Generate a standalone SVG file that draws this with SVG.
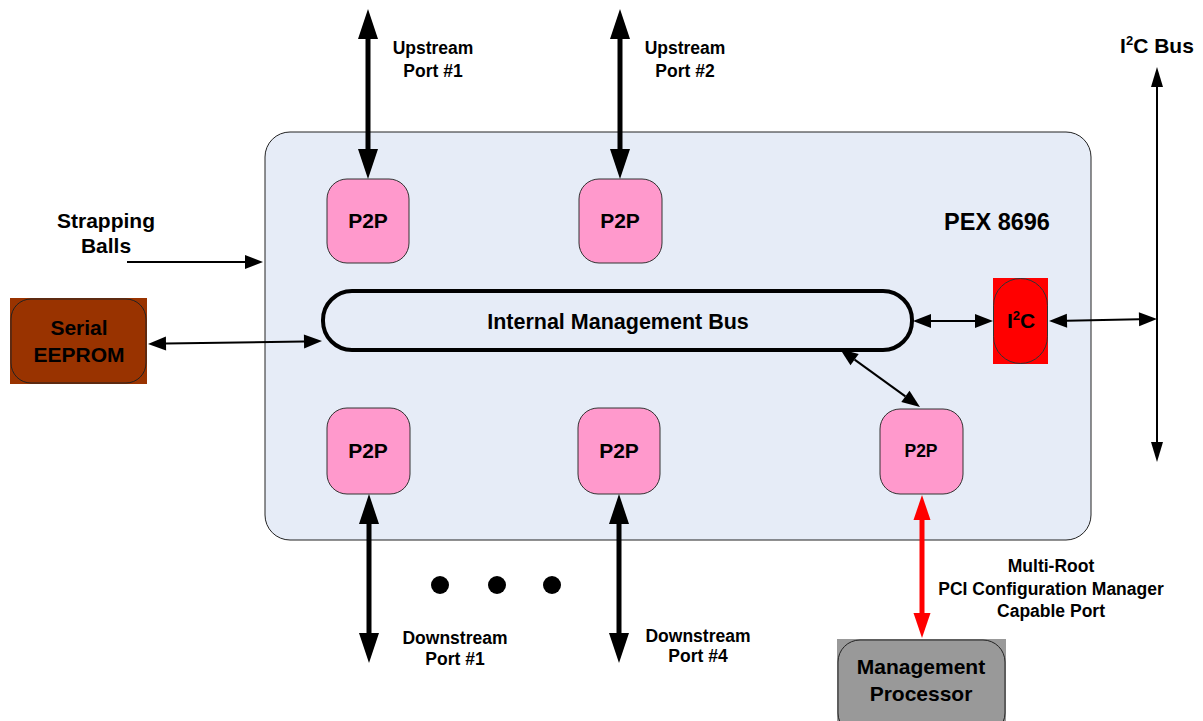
<svg xmlns="http://www.w3.org/2000/svg" width="1203" height="721" viewBox="0 0 1203 721">
<defs>
<style>
text{font-family:"Liberation Sans",Arial,sans-serif;font-weight:bold;fill:#000;text-anchor:middle}
.big{font-size:21px}
.sm{font-size:17.5px}
.p2p{fill:#ff99cc;stroke:#333;stroke-width:1}
.thick{stroke:#000;stroke-width:5;fill:none}
.thin{stroke:#000;stroke-width:2;fill:none}
.red{stroke:#ff0000;stroke-width:5;fill:none}
</style>
<marker id="hb" markerUnits="userSpaceOnUse" markerWidth="32" markerHeight="22" viewBox="0 -11 32 22" refX="0" refY="0" orient="auto-start-reverse" overflow="visible">
<path d="M0,-10 L30,0 L0,10 z" fill="#000"/>
</marker>
<marker id="hr" markerUnits="userSpaceOnUse" markerWidth="27" markerHeight="19" viewBox="0 -9.5 27 19" refX="0" refY="0" orient="auto-start-reverse" overflow="visible">
<path d="M0,-8.5 L25,0 L0,8.5 z" fill="#ff0000"/>
</marker>
<marker id="ht" markerUnits="userSpaceOnUse" markerWidth="20" markerHeight="16" viewBox="0 -8 20 16" refX="0" refY="0" orient="auto-start-reverse" overflow="visible">
<path d="M0,-7 L18,0 L0,7 z" fill="#000"/>
</marker>
<marker id="hv" markerUnits="userSpaceOnUse" markerWidth="22" markerHeight="14" viewBox="0 -7 22 14" refX="0" refY="0" orient="auto-start-reverse" overflow="visible">
<path d="M0,-6 L20,0 L0,6 z" fill="#000"/>
</marker>
</defs>
<rect width="1203" height="721" fill="#fff"/>

<g id="pex8696">
<rect x="265" y="132" width="826" height="408" rx="25" ry="25" fill="#e6ecf7" stroke="#222" stroke-width="1"/>
<text x="997" y="230" font-size="23.5">PEX 8696</text>
</g>

<g id="p2p-up1"><rect class="p2p" x="327" y="179" width="82" height="84" rx="20"/><text class="big" x="368" y="228">P2P</text></g>
<g id="p2p-up2"><rect class="p2p" x="579" y="179" width="83" height="84" rx="20"/><text class="big" x="620" y="228">P2P</text></g>
<g id="p2p-down1"><rect class="p2p" x="327" y="408" width="83" height="86" rx="20"/><text class="big" x="368" y="458">P2P</text></g>
<g id="p2p-down4"><rect class="p2p" x="578" y="408" width="82" height="86" rx="20"/><text class="big" x="619" y="458">P2P</text></g>
<g id="p2p-mgmt"><rect class="p2p" x="880" y="409" width="83" height="85" rx="20"/><text class="sm" x="921" y="457">P2P</text></g>

<g id="internal-bus">
<rect x="323" y="291" width="589" height="59" rx="29" ry="29" fill="none" stroke="#000" stroke-width="4"/>
<text x="618" y="329" font-size="21.5">Internal Management Bus</text>
</g>

<g id="i2c">
<rect x="993" y="278" width="55" height="86" fill="#ff0000"/>
<rect x="993.5" y="278.5" width="54" height="85" rx="27" ry="27" fill="#ff0000" stroke="#333" stroke-width="1"/>
<text class="big" x="1021" y="328">I<tspan font-size="13" dy="-8">2</tspan><tspan dy="8">C</tspan></text>
</g>

<g id="serial-eeprom">
<rect x="10" y="298" width="137" height="86" fill="#993300"/>
<rect x="11" y="299" width="135" height="84" rx="20" ry="20" fill="#993300" stroke="#222" stroke-width="1"/>
<text class="big" x="79" y="335">Serial</text>
<text class="big" x="79" y="362">EEPROM</text>
</g>

<g id="mgmt-processor">
<rect x="837" y="639" width="169" height="82" fill="#999999"/>
<rect x="838" y="640" width="167" height="95" rx="22" ry="22" fill="#999999" stroke="#222" stroke-width="1"/>
<text class="big" x="921" y="674">Management</text>
<text class="big" x="921" y="701">Processor</text>
</g>

<g id="labels">
<text class="big" x="106" y="228">Strapping</text>
<text class="big" x="106" y="253">Balls</text>
<text class="sm" x="433" y="54">Upstream</text>
<text class="sm" x="433" y="77">Port #1</text>
<text class="sm" x="685" y="54">Upstream</text>
<text class="sm" x="685" y="77">Port #2</text>
<text class="sm" x="455" y="644">Downstream</text>
<text class="sm" x="455" y="665">Port #1</text>
<text class="sm" x="698" y="642">Downstream</text>
<text class="sm" x="698" y="662">Port #4</text>
<text class="sm" x="1051" y="572">Multi-Root</text>
<text class="sm" x="1051" y="595">PCI Configuration Manager</text>
<text class="sm" x="1051" y="617">Capable Port</text>
<text class="big" x="1157" y="53">I<tspan font-size="13" dy="-8">2</tspan><tspan dy="8">C Bus</tspan></text>
</g>

<g id="dots" fill="#000">
<circle cx="440" cy="585" r="9"/>
<circle cx="497" cy="585" r="9"/>
<circle cx="552" cy="585" r="9"/>
</g>

<g id="connectors">
<line class="thick" x1="368" y1="39" x2="368" y2="149" marker-start="url(#hb)" marker-end="url(#hb)"/>
<line class="thick" x1="620" y1="39" x2="620" y2="149" marker-start="url(#hb)" marker-end="url(#hb)"/>
<line class="thick" x1="369" y1="524" x2="369" y2="633" marker-start="url(#hb)" marker-end="url(#hb)"/>
<line class="thick" x1="619" y1="524" x2="619" y2="633" marker-start="url(#hb)" marker-end="url(#hb)"/>
<line class="red" x1="922" y1="520" x2="922" y2="613" marker-start="url(#hr)" marker-end="url(#hr)"/>
<line class="thin" x1="127" y1="262" x2="245" y2="262" marker-end="url(#ht)"/>
<line class="thin" x1="166" y1="343.6" x2="304" y2="341.4" marker-start="url(#ht)" marker-end="url(#ht)"/>
<line class="thin" x1="931" y1="321" x2="975" y2="321" marker-start="url(#ht)" marker-end="url(#ht)"/>
<line class="thin" x1="1067" y1="320.7" x2="1139" y2="319.3" marker-start="url(#ht)" marker-end="url(#ht)"/>
<line class="thin" x1="854.6" y1="359.6" x2="905.4" y2="396.4" marker-start="url(#ht)" marker-end="url(#ht)"/>
<line class="thin" x1="1157" y1="87" x2="1157" y2="442" marker-start="url(#hv)" marker-end="url(#hv)"/>
</g>
</svg>
